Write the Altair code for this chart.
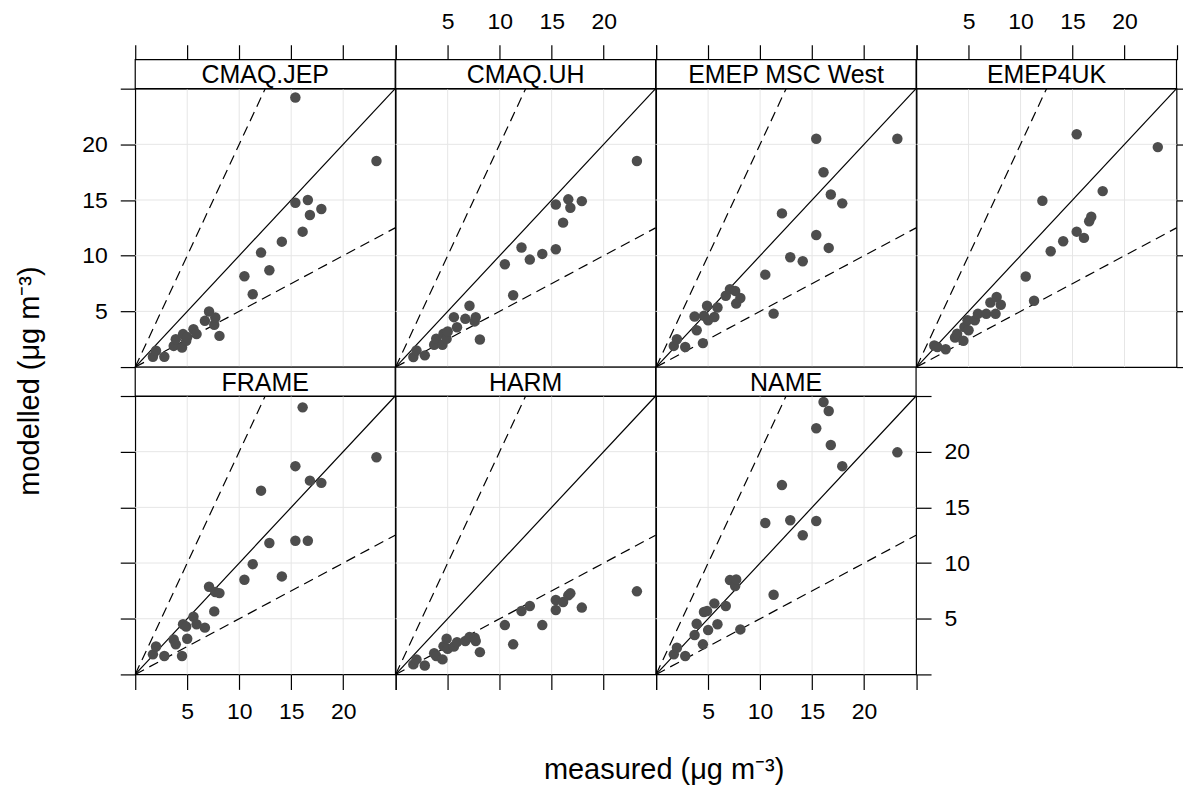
import altair as alt
import pandas as pd

# ---------------- data ----------------
models = ["CMAQ.JEP", "CMAQ.UH", "EMEP MSC West", "EMEP4UK", "FRAME", "HARM", "NAME"]

measured = [1.7, 2.0, 2.8, 3.7, 3.9, 4.5, 4.6, 4.9, 5.0, 5.6, 5.9, 6.7, 7.1, 7.6, 7.7, 8.1,
            10.5, 11.3, 12.1, 12.9, 14.1, 15.4, 15.4, 16.1, 16.6, 16.8, 17.9, 23.2]

cmaq_jep = [0.93, 1.46, 0.93, 1.9, 2.5, 1.76, 2.96, 2.36, 2.7, 3.4, 2.96, 4.15, 4.99, 3.8, 4.45, 2.8,
            8.16, 6.54, 10.28, 8.7, 11.26, 24.2, 14.76, 12.16, 15.0, 13.65, 14.2, 18.5]
cmaq_uh = [0.9, 1.5, 1.05, 2.0, 2.54, 2.0, 2.99, 2.54, 3.2, 4.48, 3.58, 4.33, 5.5, 4.1, 4.48, 2.48,
           9.23, 6.45, 10.73, 9.65, 10.16, 14.6, 10.58, 12.97, 15.06, 14.3, 14.9, 18.5]
emep_msc = [1.9, 2.5, 1.8, 4.54, 3.3, 2.15, 4.6, 5.5, 4.2, 4.5, 5.35, 6.4, 7.0, 6.84, 5.7, 6.2,
            8.3, 4.8, 13.8, 9.86, 9.5, 20.5, 11.86, 17.5, 10.7, 15.5, 14.7, 20.5]
emep4uk = [1.94, 1.8, 1.6, 2.66, 3.0, 2.36, 3.6, 4.2, 3.3, 4.2, 4.78, 4.78, 5.8, 4.78, 6.3, 5.6,
           8.13, 5.95, 14.94, 10.4, 11.3, 20.9, 12.16, 11.6, 13.1, 13.5, 15.8, 19.75]
frame = [1.8, 2.5, 1.65, 3.14, 2.7, 1.65, 4.5, 4.3, 3.2, 5.18, 4.5, 4.2, 7.87, 5.66, 7.4, 7.3,
         8.5, 9.9, 16.5, 11.8, 8.8, 18.7, 12.0, 23.98, 12.0, 17.4, 17.2, 19.5]
harm = [0.9, 1.35, 0.8, 1.9, 1.65, 1.35, 2.54, 3.2, 2.3, 2.5, 2.9, 3.0, 3.35, 3.3, 3.0, 2.0,
        4.43, 2.7, 5.69, 6.14, 4.43, 6.68, 5.78, 6.5, 7.1, 7.28, 6.0, 7.46]
name_m = [1.8, 2.4, 1.65, 3.53, 4.55, 2.7, 5.6, 5.7, 3.98, 6.38, 4.5, 6.14, 8.47, 7.93, 8.53, 4.04,
          13.6, 7.16, 17.0, 13.84, 12.5, 22.1, 13.77, 24.46, 23.65, 20.6, 18.7, 19.94]

modelled = dict(zip(models, [cmaq_jep, cmaq_uh, emep_msc, emep4uk, frame, harm, name_m]))

tick_values = [0, 5, 10, 15, 20, 25]
grid_values = [5, 10, 15, 20]
axis_limit = 25
ratio_slopes = [1.0, 2.0, 0.5]
ratio_dash = ["solid", "dash", "dash"]

x_title = "measured (μg m⁻³)"
y_title = "modelled (μg m⁻³)"

# ---------------- style ----------------
W, H, S = 260.5, 279, 29
FONT = "Liberation Sans"
PT_COLOR = "#4D4D4D"
LW = 1.2


def mk_axis(orient, show_labels, offset=0, tick=15):
    return alt.Axis(
        orient=orient, values=tick_values, labels=show_labels,
        labelExpr="datum.value > 0 && datum.value < 25 ? datum.label : ''",
        ticks=True, tickSize=tick, tickColor="black", tickWidth=LW,
        domain=False, grid=False, title=None, labelFontSize=23,
        labelFont=FONT, labelColor="black",
        labelPadding=11 if orient in ("top", "bottom") else 13,
        labelFlush=False, labelOverlap=False, offset=offset)


def scale():
    return alt.Scale(domain=[0, axis_limit], nice=False, zero=False)


def ax(spec, orient, offset=0, tick=15):
    if spec is None:
        return None
    return mk_axis(orient, spec == "labels", offset, tick)


lines_rows = []
for s, d in zip(ratio_slopes, ratio_dash):
    xe = min(axis_limit, axis_limit / s)
    lines_rows.append({"x0": 0.0, "y0": 0.0, "x1": xe, "y1": s * xe, "dash": d})
lines_df = pd.DataFrame(lines_rows)
grid_df = pd.DataFrame({"g": grid_values})


def panel(name, top=None, bottom=None, left=None, right=None, right_tick=15, titles=False):
    df = pd.DataFrame({"measured": measured, "modelled": modelled[name]})

    gx = alt.Chart(grid_df).mark_rule(color="#E6E6E6", strokeWidth=1).encode(
        x=alt.X("g:Q", scale=scale(), axis=ax(bottom, "bottom")))
    gy = alt.Chart(grid_df).mark_rule(color="#E6E6E6", strokeWidth=1).encode(
        y=alt.Y("g:Q", scale=scale(), axis=ax(left, "left")))

    solid = alt.Chart(lines_df[lines_df.dash == "solid"]).mark_rule(
        color="black", strokeWidth=LW).encode(
        x=alt.X("x0:Q", scale=scale(), axis=None), y=alt.Y("y0:Q", scale=scale(), axis=None),
        x2="x1:Q", y2="y1:Q")
    dashed = alt.Chart(lines_df[lines_df.dash == "dash"]).mark_rule(
        color="black", strokeWidth=LW, strokeDash=[10, 6]).encode(
        x=alt.X("x0:Q", scale=scale(), axis=None), y=alt.Y("y0:Q", scale=scale(), axis=None),
        x2="x1:Q", y2="y1:Q")

    pts = alt.Chart(df).mark_circle(size=110, color=PT_COLOR, opacity=1).encode(
        x=alt.X("measured:Q", scale=scale(), axis=ax(top, "top", S)),
        y=alt.Y("modelled:Q", scale=scale(), axis=ax(right, "right", 0, right_tick)))

    lab = pd.DataFrame({"model": [name]})
    strip = alt.Chart(lab).mark_rect(fill="white", stroke="black", strokeWidth=LW).encode(
        x=alt.value(0), x2=alt.value(W), y=alt.value(-S), y2=alt.value(0))
    strip_t = alt.Chart(lab).mark_text(font=FONT, fontSize=25, color="black", baseline="middle").encode(
        x=alt.value(W / 2), y=alt.value(-S / 2 + 1), text="model:N")

    layers = [gx, gy, solid, dashed, pts, strip, strip_t]
    if titles:
        tdf = pd.DataFrame({"xt": [x_title], "yt": [y_title]})
        layers.append(alt.Chart(tdf).mark_text(font=FONT, fontSize=29, color="black",
                                               baseline="middle").encode(
            x=alt.value(530), y=alt.value(375), text="xt:N"))
        layers.append(alt.Chart(tdf).mark_text(font=FONT, fontSize=29, color="black",
                                               baseline="middle", angle=270).encode(
            x=alt.value(-105), y=alt.value(-15), text="yt:N"))

    return alt.layer(*layers).resolve_axis(x="independent", y="independent").properties(
        width=W, height=H)


panels = [
    panel("CMAQ.JEP", top="ticks", left="labels"),
    panel("CMAQ.UH", top="labels"),
    panel("EMEP MSC West", top="ticks"),
    panel("EMEP4UK", top="labels", right="ticks", right_tick=6),
    panel("FRAME", bottom="labels", left="ticks", titles=True),
    panel("HARM", bottom="ticks"),
    panel("NAME", bottom="labels", right="labels"),
]

chart = alt.concat(*panels, columns=4, spacing={"row": S, "column": 0}, bounds="flush").configure_view(
    stroke="black", strokeWidth=LW, fill="white").properties(
    padding={"left": 7.5, "top": 1, "right": 0, "bottom": 0}, background="white")

chart.save("out.html", embed_options={"renderer": "svg", "actions": False})
